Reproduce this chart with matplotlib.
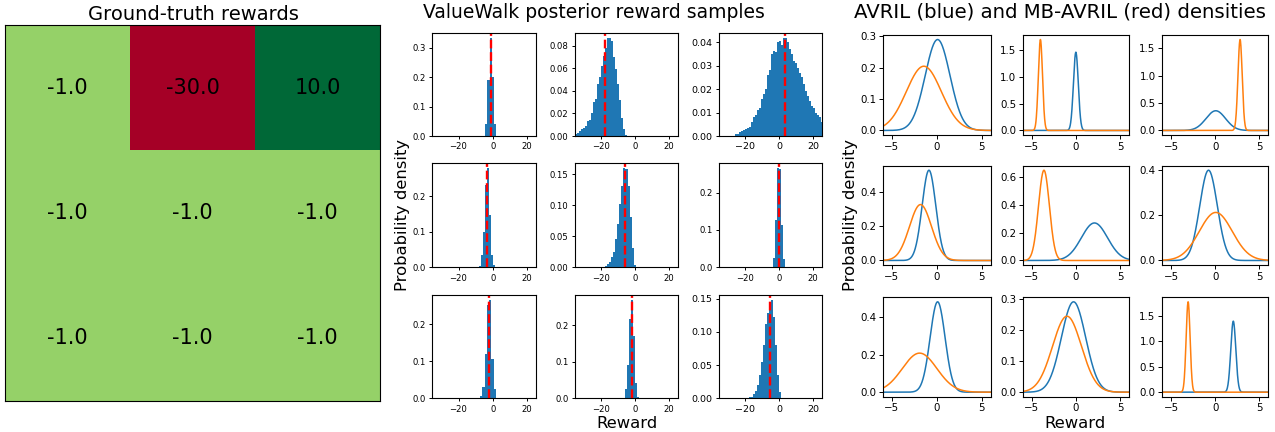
import numpy as np
import matplotlib.pyplot as plt
from matplotlib.ticker import MaxNLocator

# --- data ---
grid_rewards = [[-1.0, -30.0, 10.0],
                [-1.0, -1.0, -1.0],
                [-1.0, -1.0, -1.0]]

# ValueWalk histograms (density), per grid cell, row-major
vw_bin_start = [-4.3, -35.8, -25.8,
                -8.25, -17.7, -3.7,
                -7.3, -6.0, -17.5]
vw_bin_width = [1.24, 1.19, 1.17,
                1.18, 1.2, 1.2,
                1.3, 1.2, 1.165]
vw_heights = [
    [0.04, 0.19, 0.335, 0.20, 0.04],
    [0.002, 0.003, 0.004, 0.006, 0.007, 0.009, 0.013, 0.0145, 0.020, 0.030,
     0.033, 0.046, 0.052, 0.062, 0.071, 0.078, 0.087, 0.087, 0.084, 0.070,
     0.059, 0.046, 0.032, 0.016, 0.006, 0.001],
    [0.001, 0.001, 0.0015, 0.002, 0.0025, 0.003, 0.0035, 0.004, 0.006, 0.008,
     0.009, 0.011, 0.012, 0.016, 0.018, 0.020, 0.026, 0.028, 0.035, 0.0365,
     0.036, 0.040, 0.0405, 0.039, 0.042, 0.042, 0.040, 0.037, 0.035, 0.032,
     0.031, 0.029, 0.027, 0.025, 0.022, 0.019, 0.017, 0.015, 0.013, 0.012,
     0.010, 0.009, 0.008, 0.006],
    [0.004, 0.035, 0.10, 0.23, 0.278, 0.146, 0.035, 0.006],
    [0.002, 0.005, 0.008, 0.016, 0.025, 0.046, 0.070, 0.103, 0.131, 0.160,
     0.159, 0.132, 0.081, 0.031, 0.004],
    [0.024, 0.126, 0.265, 0.262, 0.113, 0.022],
    [0.007, 0.03, 0.12, 0.25, 0.265, 0.105, 0.025],
    [0.025, 0.092, 0.217, 0.269, 0.170, 0.043, 0.003],
    [0.0015, 0.0025, 0.006, 0.011, 0.020, 0.035, 0.055, 0.080, 0.112, 0.129,
     0.139, 0.148, 0.122, 0.080, 0.035, 0.010],
]
vw_means = [-1.0, -17.8, 3.5,
            -3.1, -6.2, -0.2,
            -2.0, -1.8, -5.6]

# AVRIL (blue) / MB-AVRIL (orange) gaussian posteriors
avril_mu = [0.1, 0.0, 0.07,
            -0.86, 2.1, -0.75,
            0.1, -0.26, 2.06]
avril_sd = [1.375, 0.273, 1.108,
            0.76, 1.477, 0.997,
            0.83, 1.37, 0.285]
mb_mu = [-1.43, -4.0, 2.83,
         -1.8, -3.6, 0.07,
         -1.9, -1.0, -3.07]
mb_sd = [1.946, 0.235, 0.24,
         1.227, 0.614, 1.873,
         1.92, 1.63, 0.224]

W, H = 1275, 432
fig = plt.figure(figsize=(W / 100, H / 100), dpi=100)


def box(x0, y0, x1, y1):
    return [x0 / W, 1 - y1 / H, (x1 - x0) / W, (y1 - y0) / H]


# --- left: ground truth grid ---
ax = fig.add_axes(box(5, 25, 380, 401))
ax.imshow(grid_rewards, cmap='RdYlGn', vmin=-30, vmax=10, aspect='auto')
for i in range(3):
    for j in range(3):
        ax.text(j, i, f"{grid_rewards[i][j]}", ha='center', va='center', fontsize=15)
ax.set_xticks([])
ax.set_yticks([])
fig.text(193 / W, 1 - 14 / H, 'Ground-truth rewards', ha='center', va='center', fontsize=14)

# --- middle: ValueWalk histograms ---
mid_cols = [(432, 536), (575, 678), (719, 822)]
mid_rows = [(32.7, 136), (163.3, 267.3), (295, 398.3)]
for k in range(9):
    r, c = divmod(k, 3)
    a = fig.add_axes(box(mid_cols[c][0], mid_rows[r][0], mid_cols[c][1], mid_rows[r][1]))
    h = np.array(vw_heights[k])
    left = vw_bin_start[k] + vw_bin_width[k] * np.arange(len(h))
    a.bar(left, h, width=vw_bin_width[k], align='edge', color='C0')
    a.axvline(vw_means[k], color='red', linestyle='--', linewidth=1.7)
    a.set_xlim(-35.5, 25.3)
    a.set_xticks([-20, 0, 20])
    a.yaxis.set_major_locator(MaxNLocator(nbins=5, steps=[1, 2, 5, 10]))
    fs = 6.8 if k in (2, 8) else 6.1
    a.tick_params(labelsize=fs, length=2.5, width=0.7, pad=2)
    for s in a.spines.values():
        s.set_linewidth(0.8)
fig.text(594 / W, 1 - 12 / H, 'ValueWalk posterior reward samples', ha='center', va='center', fontsize=13.5)
fig.text(402 / W, 1 - 215 / H, 'Probability density', rotation=90, ha='center', va='center', fontsize=11.8)
fig.text(627 / W, 1 - 423 / H, 'Reward', ha='center', va='center', fontsize=11.8)

# --- right: AVRIL densities ---
right_cols = [(882.7, 990.7), (1022.7, 1129), (1162.3, 1268)]
right_rows = [(35, 135), (165.7, 265), (297.3, 396.7)]
xs = np.linspace(-6, 6, 500)
for k in range(9):
    r, c = divmod(k, 3)
    a = fig.add_axes(box(right_cols[c][0], right_rows[r][0], right_cols[c][1], right_rows[r][1]))
    pa = np.exp(-0.5 * ((xs - avril_mu[k]) / avril_sd[k]) ** 2) / (avril_sd[k] * np.sqrt(2 * np.pi))
    pm = np.exp(-0.5 * ((xs - mb_mu[k]) / mb_sd[k]) ** 2) / (mb_sd[k] * np.sqrt(2 * np.pi))
    a.plot(xs, pa, color='C0', linewidth=1.1)
    a.plot(xs, pm, color='C1', linewidth=1.1)
    a.set_xlim(-6, 6)
    a.tick_params(labelsize=7.4, length=2.8, width=0.7, pad=2)
    for s in a.spines.values():
        s.set_linewidth(0.8)
fig.text(1060 / W, 1 - 12 / H, 'AVRIL (blue) and MB-AVRIL (red) densities', ha='center', va='center', fontsize=14.2)
fig.text(851 / W, 1 - 215 / H, 'Probability density', rotation=90, ha='center', va='center', fontsize=11.8)
fig.text(1075 / W, 1 - 423 / H, 'Reward', ha='center', va='center', fontsize=11.8)

fig.savefig('out.png', dpi=100)
